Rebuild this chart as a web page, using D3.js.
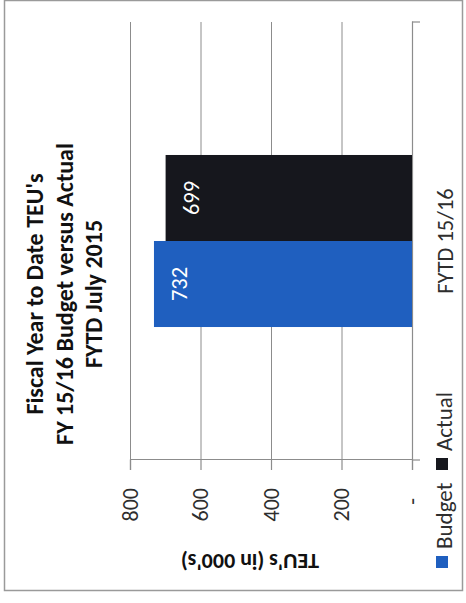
<!DOCTYPE html>
<html>
<head>
<meta charset="utf-8">
<script src="https://cdn.jsdelivr.net/npm/d3@7"></script>
<style>
  html, body { margin: 0; padding: 0; background: #fff; }
  svg { display: block; }
  text { font-family: Carlito, Calibri, Lato, sans-serif; }
</style>
</head>
<body>
<svg id="chart" width="466" height="603"></svg>
<script>
// Chart data
const categories = ["FYTD 15/16"];
const seriesNames = ["Budget", "Actual"];
const budgetValues = [732];
const actualValues = [699];
const seriesColors = ["#1f5fbf", "#16171d"];
const valueTicks = [0, 200, 400, 600, 800];
const titleLines = ["Fiscal Year to Date TEU's", "FY 15/16 Budget versus Actual", "FYTD July 2015"];
const axisTitle = "TEU's (in 000's)";

const seriesValues = [budgetValues, actualValues];
const rows = categories.map((c, i) => ({
  category: c,
  values: seriesNames.map((s, j) => ({ series: s, value: seriesValues[j][i], color: seriesColors[j] }))
}));

// The chart is laid out as a column chart on a 603 x 466 canvas, then turned
// a quarter-turn counter-clockwise onto the 466 x 603 page.
const W = 603, H = 466;
const svg = d3.select("#chart");
const root = svg.append("g").attr("transform", `translate(0,${W}) rotate(-90)`);

const gridColor = "#8c8c8c";
const textColor = "#2e2e2e";

// Outer frame
root.append("rect")
  .attr("x", 12.5).attr("y", 4.5)
  .attr("width", W - 13).attr("height", 458)
  .attr("fill", "none").attr("stroke", "#9a9a9a").attr("stroke-width", 1.5);

const plot = { left: 143, right: 581, top: 130, bottom: 412 };

const x = d3.scaleBand()
  .domain(categories)
  .range([plot.left, plot.right])
  .padding(0.436);

const xs = d3.scaleBand()
  .domain(seriesNames)
  .range([0, x.bandwidth()])
  .padding(0);

const y = d3.scaleLinear()
  .domain([0, 800])
  .range([plot.bottom, plot.top]);

// Horizontal gridlines
root.append("g")
  .attr("transform", `translate(${plot.left},0)`)
  .call(d3.axisLeft(y).tickValues(valueTicks).tickSize(-(plot.right - plot.left)).tickFormat(""))
  .call(g => g.select(".domain").remove())
  .call(g => g.selectAll("line").attr("stroke", gridColor).attr("stroke-width", 1));

// Value axis with accounting-style zero
const yAxis = root.append("g")
  .attr("transform", `translate(${plot.left},0)`)
  .call(d3.axisLeft(y).tickValues(valueTicks).tickSize(10).tickPadding(18)
    .tickFormat(d => d === 0 ? "-\u00a0\u00a0" : d3.format("d")(d)));
yAxis.select(".domain").attr("stroke", gridColor).attr("stroke-width", 1.2);
yAxis.selectAll("line").attr("stroke", gridColor).attr("stroke-width", 1.2);
yAxis.selectAll("text")
  .attr("fill", textColor)
  .style("font-size", "22px");

// Category axis
const xAxis = root.append("g")
  .attr("transform", `translate(0,${plot.bottom})`)
  .call(d3.axisBottom(x).tickSize(0).tickPadding(0).tickFormat(""));
xAxis.select(".domain").attr("stroke", gridColor).attr("stroke-width", 1.2);
xAxis.selectAll(".edge")
  .data([plot.left, plot.right])
  .join("line")
  .attr("class", "edge")
  .attr("x1", d => d).attr("x2", d => d)
  .attr("y1", 0).attr("y2", 8)
  .attr("stroke", gridColor).attr("stroke-width", 1.2);

root.append("g").selectAll("text")
  .data(categories)
  .join("text")
  .attr("x", d => x(d) + x.bandwidth() / 2)
  .attr("y", plot.bottom + 41)
  .attr("text-anchor", "middle")
  .attr("fill", textColor)
  .style("font-size", "22.5px")
  .text(d => d);

// Bars
const groups = root.append("g").selectAll("g")
  .data(rows)
  .join("g")
  .attr("transform", d => `translate(${x(d.category)},0)`);

groups.selectAll("rect")
  .data(d => d.values)
  .join("rect")
  .attr("x", d => xs(d.series))
  .attr("width", xs.bandwidth())
  .attr("y", d => y(d.value))
  .attr("height", d => y(0) - y(d.value))
  .attr("fill", d => d.color);

// Value labels inside the bar ends
groups.selectAll("text")
  .data(d => d.values)
  .join("text")
  .attr("x", d => xs(d.series) + xs.bandwidth() / 2)
  .attr("y", d => y(d.value) + 33)
  .attr("text-anchor", "middle")
  .attr("fill", "#ffffff")
  .style("font-size", "22.5px")
  .text(d => d3.format("d")(d.value));

// Title
root.append("text")
  .attr("text-anchor", "middle")
  .attr("fill", "#111")
  .style("font-size", "24px")
  .style("font-weight", "bold")
  .selectAll("tspan")
  .data(titleLines)
  .join("tspan")
  .attr("x", 309)
  .attr("y", (d, i) => 43 + i * 29.5)
  .text(d => d);

// Value axis title
root.append("text")
  .attr("transform", `translate(49,250) rotate(-90)`)
  .attr("text-anchor", "middle")
  .attr("fill", "#111")
  .style("font-size", "22px")
  .style("font-weight", "bold")
  .text(axisTitle);

// Legend
const legend = root.append("g").attr("transform", `translate(0,${plot.bottom + 24})`);
const legendX = [35, 133];
const legendItems = legend.selectAll("g")
  .data(seriesNames)
  .join("g")
  .attr("transform", (d, i) => `translate(${legendX[i]},0)`);
legendItems.append("rect")
  .attr("width", 12).attr("height", 12)
  .attr("fill", (d, i) => seriesColors[i]);
legendItems.append("text")
  .attr("x", 19).attr("y", 16)
  .attr("fill", textColor)
  .style("font-size", "23px")
  .text(d => d);
</script>
</body>
</html>
